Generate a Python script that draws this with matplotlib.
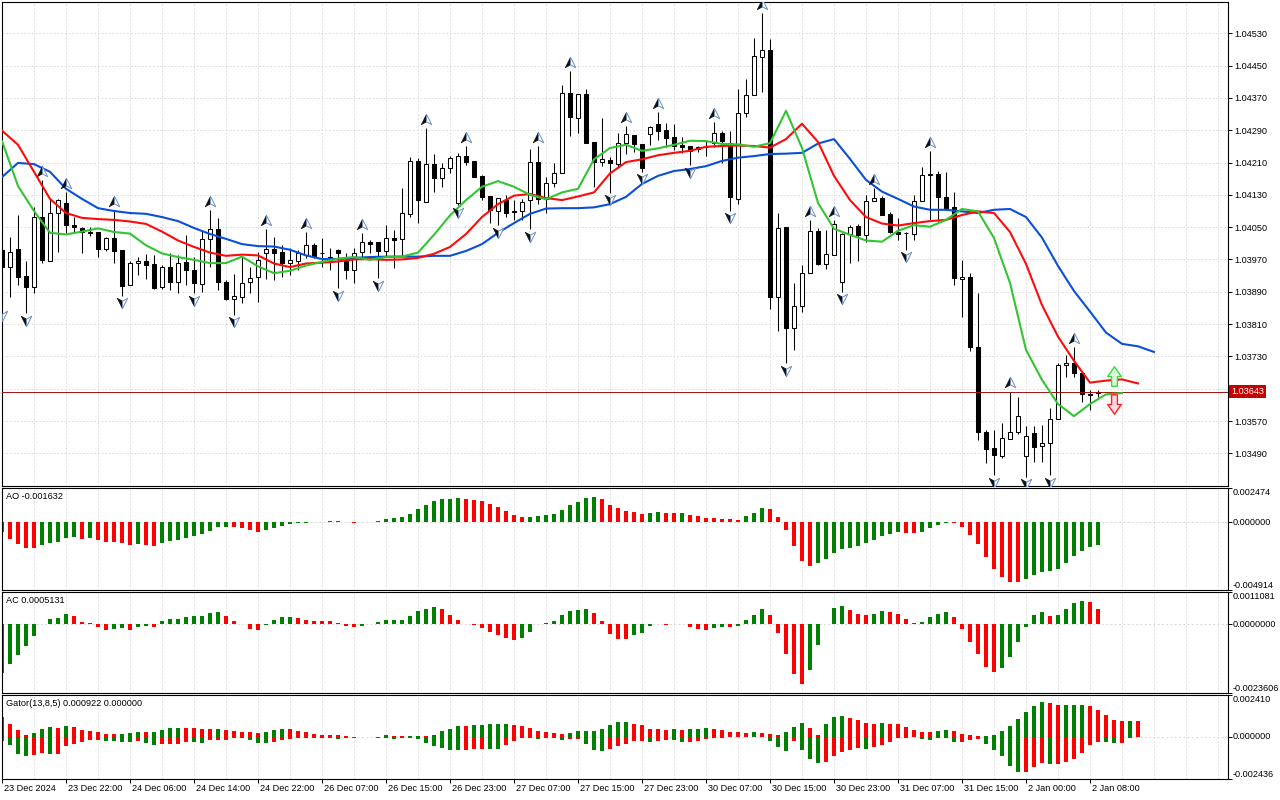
"""EURUSD H1 with Alligator, Fractals, AO, AC and Gator panels (MT5-style screenshot)."""
import matplotlib

matplotlib.use("Agg")
import matplotlib.pyplot as plt
import numpy as np
from matplotlib import transforms
from matplotlib.path import Path

plt.rcParams["font.family"] = ["Liberation Sans", "DejaVu Sans"]

# ---- candles (bar 0 = 23 Dec 14:00, hourly) ----
opens = [
    1.03994, 1.03952, 1.03995, 1.03929, 1.03903, 1.04074, 1.03967, 1.04084, 1.04109, 1.04055,
    1.04049, 1.04036, 1.04037, 1.03996, 1.04022, 1.03994, 1.03906, 1.03961, 1.03966, 1.03958,
    1.03903, 1.03951, 1.03915, 1.03963, 1.03944, 1.03909, 1.04020, 1.04045, 1.03914, 1.03871,
    1.03878, 1.03913, 1.03926, 1.03985, 1.03995, 1.03988, 1.03962, 1.03967, 1.03981, 1.04006,
    1.03985, 1.03973, 1.03994, 1.03965, 1.03944, 1.03988, 1.04013, 1.04012, 1.03992, 1.04022,
    1.04020, 1.04083, 1.04213, 1.04112, 1.04206, 1.04171, 1.04196, 1.04111, 1.04226, 1.04214,
    1.04177, 1.04127, 1.04091, 1.04116, 1.04090, 1.04090, 1.04117, 1.04212, 1.04119, 1.04160,
    1.04183, 1.04382, 1.04320, 1.04379, 1.04260, 1.04212, 1.04216, 1.04206, 1.04258, 1.04278,
    1.04256, 1.04280, 1.04305, 1.04291, 1.04272, 1.04254, 1.04251, 1.04244, 1.04249, 1.04258,
    1.04282, 1.04258, 1.04119, 1.04333, 1.04377, 1.04472, 1.04489, 1.03876, 1.04051, 1.03800,
    1.03855, 1.03937, 1.04041, 1.03959, 1.03981, 1.03915, 1.04033, 1.04053, 1.04031, 1.04115,
    1.04122, 1.04083, 1.04039, 1.04035, 1.04033, 1.04115, 1.04179, 1.04182, 1.04124, 1.04099,
    1.03921, 1.03926, 1.03754, 1.03544, 1.03502, 1.03483, 1.03525, 1.03544, 1.03483, 1.03541,
    1.03508, 1.03516, 1.03574, 1.03709, 1.03713, 1.03690, 1.03637, 1.03639,
]
highs = [
    1.04008, 1.04026, 1.04080, 1.03965, 1.04101, 1.04167, 1.04122, 1.04119, 1.04138, 1.04076,
    1.04051, 1.04051, 1.04039, 1.04026, 1.04093, 1.03994, 1.03967, 1.03977, 1.03984, 1.03981,
    1.03956, 1.03985, 1.03981, 1.04031, 1.03977, 1.04043, 1.04093, 1.04072, 1.03919, 1.03934,
    1.03977, 1.03952, 1.03989, 1.04045, 1.04026, 1.04006, 1.03998, 1.03994, 1.04039, 1.04010,
    1.04022, 1.03998, 1.03995, 1.03985, 1.03998, 1.04036, 1.04018, 1.04012, 1.04055, 1.04043,
    1.04146, 1.04223, 1.04221, 1.04295, 1.04231, 1.04210, 1.04225, 1.04233, 1.04251, 1.04214,
    1.04179, 1.04127, 1.04122, 1.04130, 1.04117, 1.04119, 1.04243, 1.04251, 1.04175, 1.04208,
    1.04402, 1.04437, 1.04379, 1.04391, 1.04260, 1.04320, 1.04223, 1.04282, 1.04301, 1.04278,
    1.04256, 1.04301, 1.04336, 1.04309, 1.04305, 1.04273, 1.04251, 1.04252, 1.04266, 1.04311,
    1.04289, 1.04289, 1.04391, 1.04417, 1.04518, 1.04580, 1.04515, 1.04086, 1.04051, 1.03911,
    1.03956, 1.04068, 1.04047, 1.04043, 1.04068, 1.04035, 1.04055, 1.04057, 1.04130, 1.04146,
    1.04127, 1.04088, 1.04072, 1.04039, 1.04130, 1.04198, 1.04239, 1.04190, 1.04187, 1.04138,
    1.03969, 1.03937, 1.03886, 1.03548, 1.03548, 1.03564, 1.03643, 1.03630, 1.03558, 1.03558,
    1.03560, 1.03602, 1.03713, 1.03734, 1.03753, 1.03690, 1.03647, 1.03647,
]
lows = [
    1.03850, 1.03878, 1.03907, 1.03837, 1.03888, 1.03961, 1.03967, 1.03989, 1.04035, 1.04039,
    1.03987, 1.04028, 1.03977, 1.03992, 1.03962, 1.03880, 1.03906, 1.03932, 1.03921, 1.03896,
    1.03896, 1.03894, 1.03886, 1.03907, 1.03886, 1.03890, 1.03952, 1.03894, 1.03870, 1.03833,
    1.03862, 1.03886, 1.03865, 1.03921, 1.03919, 1.03927, 1.03932, 1.03944, 1.03974, 1.03973,
    1.03952, 1.03944, 1.03899, 1.03921, 1.03911, 1.03977, 1.03985, 1.03923, 1.03977, 1.03948,
    1.03979, 1.04076, 1.04060, 1.04112, 1.04138, 1.04150, 1.04183, 1.04105, 1.04204, 1.04174,
    1.04117, 1.04060, 1.04055, 1.04076, 1.04068, 1.04068, 1.04045, 1.04107, 1.04084, 1.04150,
    1.04183, 1.04276, 1.04282, 1.04258, 1.04150, 1.04201, 1.04135, 1.04200, 1.04231, 1.04237,
    1.04187, 1.04254, 1.04266, 1.04249, 1.04241, 1.04233, 1.04204, 1.04237, 1.04225, 1.04249,
    1.04208, 1.04091, 1.04107, 1.04322, 1.04377, 1.04385, 1.03847, 1.03794, 1.03713, 1.03746,
    1.03841, 1.03937, 1.03956, 1.03946, 1.03981, 1.03890, 1.03962, 1.03967, 1.04014, 1.04115,
    1.04080, 1.04035, 1.04018, 1.03994, 1.04018, 1.04115, 1.04068, 1.04066, 1.04093, 1.03907,
    1.03828, 1.03744, 1.03523, 1.03465, 1.03436, 1.03478, 1.03525, 1.03538, 1.03432, 1.03469,
    1.03469, 1.03436, 1.03574, 1.03680, 1.03680, 1.03618, 1.03597, 1.03630,
]
closes = [
    1.03952, 1.03989, 1.03926, 1.03903, 1.04076, 1.03969, 1.04084, 1.04117, 1.04055, 1.04050,
    1.04039, 1.04038, 1.03997, 1.04022, 1.03992, 1.03904, 1.03962, 1.03966, 1.03957, 1.03900,
    1.03952, 1.03915, 1.03962, 1.03944, 1.03911, 1.04020, 1.04045, 1.03913, 1.03871, 1.03880,
    1.03911, 1.03925, 1.03969, 1.03995, 1.03987, 1.03962, 1.03969, 1.03985, 1.04006, 1.03975,
    1.03986, 1.03977, 1.03986, 1.03944, 1.03987, 1.04013, 1.04008, 1.03992, 1.04022, 1.04018,
    1.04086, 1.04215, 1.04116, 1.04206, 1.04171, 1.04196, 1.04221, 1.04226, 1.04212, 1.04175,
    1.04125, 1.04093, 1.04122, 1.04086, 1.04087, 1.04113, 1.04212, 1.04119, 1.04160, 1.04183,
    1.04382, 1.04322, 1.04379, 1.04259, 1.04211, 1.04218, 1.04208, 1.04258, 1.04280, 1.04256,
    1.04196, 1.04297, 1.04289, 1.04270, 1.04252, 1.04249, 1.04239, 1.04249, 1.04249, 1.04282,
    1.04264, 1.04124, 1.04333, 1.04377, 1.04474, 1.04489, 1.03876, 1.04047, 1.03800, 1.03855,
    1.03937, 1.04041, 1.03959, 1.03984, 1.04058, 1.04033, 1.04051, 1.04031, 1.04115, 1.04122,
    1.04080, 1.04039, 1.04033, 1.04035, 1.04115, 1.04179, 1.04182, 1.04124, 1.04097, 1.03923,
    1.03926, 1.03754, 1.03544, 1.03500, 1.03486, 1.03527, 1.03544, 1.03582, 1.03533, 1.03506,
    1.03516, 1.03574, 1.03709, 1.03713, 1.03688, 1.03636, 1.03634, 1.03643,
]

# ---- Alligator, sampled every 2 bars (lines run past the last bar by their shift) ----
LINE_STEP = 2
jaw = [
    1.04174, 1.04209, 1.04206, 1.04187, 1.04145, 1.04120, 1.04097, 1.04090, 1.04085, 1.04083,
    1.04075, 1.04065, 1.04048, 1.04033, 1.04021, 1.04008, 1.04003, 1.04002, 1.03994, 1.03980,
    1.03971, 1.03971, 1.03974, 1.03976, 1.03977, 1.03977, 1.03977, 1.03979, 1.03979, 1.03991,
    1.04008, 1.04036, 1.04060, 1.04083, 1.04096, 1.04097, 1.04097, 1.04099, 1.04107, 1.04125,
    1.04157, 1.04177, 1.04189, 1.04194, 1.04201, 1.04214, 1.04222, 1.04226, 1.04231, 1.04232,
    1.04234, 1.04257, 1.04268, 1.04219, 1.04167, 1.04138, 1.04120, 1.04101, 1.04093, 1.04093,
    1.04089, 1.04085, 1.04093, 1.04095, 1.04075, 1.04024, 1.03954, 1.03892, 1.03841, 1.03789,
    1.03761, 1.03755, 1.03741,
]
teeth = [
    1.04289, 1.04254, 1.04187, 1.04120, 1.04085, 1.04073, 1.04070, 1.04068, 1.04064, 1.04058,
    1.04039, 1.04017, 1.04001, 1.03987, 1.03979, 1.03982, 1.03980, 1.03960, 1.03951, 1.03960,
    1.03962, 1.03965, 1.03970, 1.03971, 1.03969, 1.03970, 1.03974, 1.03984, 1.04001, 1.04033,
    1.04075, 1.04107, 1.04128, 1.04132, 1.04122, 1.04117, 1.04126, 1.04136, 1.04183, 1.04211,
    1.04218, 1.04228, 1.04234, 1.04239, 1.04249, 1.04251, 1.04252, 1.04251, 1.04247, 1.04268,
    1.04306, 1.04261, 1.04177, 1.04117, 1.04075, 1.04059, 1.04054, 1.04060, 1.04065, 1.04068,
    1.04080, 1.04089, 1.04085, 1.04038, 1.03959, 1.03857, 1.03779, 1.03719, 1.03665, 1.03670,
    1.03673, 1.03663,
]
lips = [
    1.04263, 1.04152, 1.04090, 1.04036, 1.04032, 1.04039, 1.04047, 1.04038, 1.04034, 1.04005,
    1.03985, 1.03976, 1.03969, 1.03961, 1.03961, 1.03977, 1.03953, 1.03936, 1.03942, 1.03955,
    1.03964, 1.03972, 1.03976, 1.03969, 1.03976, 1.03977, 1.03987, 1.04031, 1.04079, 1.04117,
    1.04150, 1.04164, 1.04150, 1.04130, 1.04119, 1.04136, 1.04145, 1.04218, 1.04246, 1.04254,
    1.04239, 1.04245, 1.04254, 1.04264, 1.04263, 1.04256, 1.04255, 1.04249, 1.04258, 1.04338,
    1.04246, 1.04110, 1.04046, 1.04031, 1.04017, 1.04014, 1.04041, 1.04055, 1.04051, 1.04068,
    1.04095, 1.04089, 1.04023, 1.03912, 1.03746, 1.03672, 1.03612, 1.03582, 1.03612, 1.03636,
    1.03639,
]

fractal_up = [5, 8, 14, 26, 33, 38, 45, 53, 58, 67, 71, 78, 82, 89, 95, 101, 104, 109, 116, 126, 134]
fractal_down = [0, 3, 15, 24, 29, 42, 47, 57, 62, 66, 76, 80, 86, 91, 98, 105, 113, 124, 128, 131]

LAST_PRICE = 1.03643
SIGNAL_BAR = 139
SIGNAL_UP = 1.03682
SIGNAL_DOWN = 1.03611

ao = [
    -0.000724, -0.001207, -0.001569, -0.001883, -0.001907, -0.001642, -0.001497, -0.001449, -0.001135, -0.001086,
    -0.001207, -0.001159, -0.001280, -0.001449, -0.001473, -0.001497, -0.001642, -0.001569, -0.001642, -0.001738,
    -0.001497, -0.001376, -0.001280, -0.001135, -0.000990, -0.000845, -0.000604, -0.000362, -0.000338, -0.000362,
    -0.000410, -0.000555, -0.000724, -0.000555, -0.000410, -0.000290, -0.000121, -0.000048, -0.000024, -0.000012,
    0.000050, 0.000075, 0.000060, -0.000015, -0.000025, 0.000010, 0.000025, 0.000060, 0.000241, 0.000314,
    0.000362, 0.000604, 0.000942, 0.001231, 0.001521, 0.001666, 0.001714, 0.001762, 0.001666, 0.001654,
    0.001569, 0.001328, 0.001086, 0.000797, 0.000531, 0.000362, 0.000374, 0.000483, 0.000507, 0.000604,
    0.000893, 0.001255, 0.001449, 0.001738, 0.001811, 0.001666, 0.001255, 0.001014, 0.000797, 0.000724,
    0.000604, 0.000652, 0.000724, 0.000652, 0.000640, 0.000652, 0.000507, 0.000435, 0.000290, 0.000278,
    0.000266, 0.000217, 0.000145, 0.000435, 0.000652, 0.001014, 0.000942, 0.000362, -0.000555, -0.001738,
    -0.002801, -0.003187, -0.002970, -0.002656, -0.002221, -0.001931, -0.001859, -0.001738, -0.001497, -0.001280,
    -0.000990, -0.000845, -0.000724, -0.000773, -0.000785, -0.000700, -0.000410, -0.000193, -0.000050, -0.000070,
    -0.000338, -0.000917, -0.001569, -0.002511, -0.003380, -0.003959, -0.004322, -0.004334, -0.004104, -0.003815,
    -0.003597, -0.003585, -0.003380, -0.002945, -0.002476, -0.002076, -0.001811, -0.001632,
]
ac = [
    -0.001679, -0.001369, -0.001070, -0.000759, -0.000414, 0.000023, 0.000184, 0.000207, 0.000357, 0.000276,
    0.000069, 0.000035, -0.000081, -0.000207, -0.000161, -0.000127, -0.000184, -0.000092, -0.000046, -0.000092,
    0.000104, 0.000161, 0.000173, 0.000253, 0.000276, 0.000282, 0.000391, 0.000414, 0.000276, 0.000104,
    0.000023, -0.000161, -0.000207, -0.000023, 0.000127, 0.000242, 0.000247, 0.000196, 0.000138, 0.000104,
    0.000098, 0.000092, 0.000046, -0.000046, -0.000092, -0.000046, 0.000023, 0.000069, 0.000138, 0.000144,
    0.000150, 0.000276, 0.000449, 0.000529, 0.000587, 0.000506, 0.000322, 0.000138, 0.000012, -0.000023,
    -0.000115, -0.000265, -0.000357, -0.000483, -0.000552, -0.000483, -0.000265, -0.000006, 0.000035, 0.000104,
    0.000299, 0.000437, 0.000483, 0.000506, 0.000380, 0.000104, -0.000345, -0.000506, -0.000518, -0.000368,
    -0.000299, -0.000046, 0.000012, -0.000012, -0.000006, 0.000012, -0.000092, -0.000150, -0.000207, -0.000127,
    -0.000081, -0.000092, -0.000046, 0.000138, 0.000311, 0.000518, 0.000322, -0.000311, -0.001024, -0.001714,
    -0.002059, -0.001576, -0.000713, 0.000012, 0.000552, 0.000621, 0.000483, 0.000345, 0.000311, 0.000345,
    0.000449, 0.000414, 0.000345, 0.000173, 0.000035, 0.000069, 0.000242, 0.000345, 0.000414, 0.000242,
    -0.000161, -0.000610, -0.001024, -0.001472, -0.001645, -0.001507, -0.001127, -0.000610, -0.000081, 0.000311,
    0.000414, 0.000276, 0.000311, 0.000518, 0.000725, 0.000794, 0.000759, 0.0005131,
]
gator_up = [
    0.001131, 0.000767, 0.000422, 0.000096, 0.000211, 0.000441, 0.000556, 0.000498, 0.000613, 0.000556,
    0.000422, 0.000326, 0.000268, 0.000192, 0.000182, 0.000192, 0.000211, 0.000268, 0.000259, 0.000268,
    0.000403, 0.000498, 0.000508, 0.000498, 0.000489, 0.000460, 0.000450, 0.000460, 0.000383, 0.000326,
    0.000307, 0.000268, 0.000211, 0.000268, 0.000403, 0.000441, 0.000431, 0.000364, 0.000268, 0.000153,
    0.000115, 0.000105, 0.000096, 0.000038, 0.000010, 0.000005, 0.000003, 0.000019, 0.000096, 0.000077,
    0.000038, 0.000045, 0.000048, 0.000040, 0.000134, 0.000326, 0.000460, 0.000633, 0.000613, 0.000690,
    0.000700, 0.000728, 0.000732, 0.000736, 0.000690, 0.000652, 0.000498, 0.000326, 0.000288, 0.000211,
    0.000192, 0.000211, 0.000326, 0.000330, 0.000335, 0.000441, 0.000671, 0.000843, 0.000853, 0.000728,
    0.000671, 0.000441, 0.000431, 0.000422, 0.000441, 0.000383, 0.000441, 0.000450, 0.000498, 0.000441,
    0.000383, 0.000268, 0.000259, 0.000211, 0.000268, 0.000211, 0.000153, 0.000096, 0.000268, 0.000556,
    0.000786, 0.000498, 0.000096, 0.000728, 0.001131, 0.001189, 0.001074, 0.000959, 0.000786, 0.000728,
    0.000786, 0.000728, 0.000719, 0.000556, 0.000383, 0.000268, 0.000259, 0.000326, 0.000383, 0.000326,
    0.000192, 0.000090, 0.000030, 0.000040, 0.000096, 0.000326, 0.000613, 0.001035, 0.001419, 0.001764,
    0.001994, 0.001936, 0.001821, 0.001831, 0.001840, 0.001850, 0.001764, 0.001534, 0.001246, 0.000959,
    0.000901, 0.000935, 0.000922,
]
gator_down = [
    -0.000249, -0.000460, -0.000978, -0.001074, -0.001016, -0.000920, -0.000978, -0.000959, -0.000537, -0.000383,
    -0.000307, -0.000192, -0.000153, -0.000249, -0.000259, -0.000268, -0.000278, -0.000211, -0.000345, -0.000460,
    -0.000403, -0.000393, -0.000383, -0.000288, -0.000297, -0.000326, -0.000192, -0.000182, -0.000153, -0.000077,
    -0.000038, -0.000173, -0.000345, -0.000355, -0.000268, -0.000192, -0.000134, -0.000058, -0.000038, -0.000048,
    -0.000077, -0.000086, -0.000115, -0.000077, -0.000038, -0.000029, -0.000019, -0.000038, -0.000077, -0.000096,
    -0.000058, -0.000060, -0.000140, -0.000330, -0.000537, -0.000633, -0.000728, -0.000767, -0.000728, -0.000719,
    -0.000671, -0.000680, -0.000690, -0.000441, -0.000249, -0.000058, -0.000077, -0.000115, -0.000077, -0.000058,
    -0.000192, -0.000115, -0.000110, -0.000403, -0.000767, -0.000824, -0.000709, -0.000518, -0.000403, -0.000249,
    -0.000240, -0.000307, -0.000249, -0.000192, -0.000201, -0.000307, -0.000288, -0.000249, -0.000115, -0.000058,
    -0.000038, -0.000019, -0.000015, -0.000012, -0.000010, -0.000008, -0.000249, -0.000575, -0.000824, -0.000249,
    -0.000767, -0.001265, -0.001495, -0.001457, -0.001112, -0.000882, -0.000767, -0.000650, -0.000690, -0.000575,
    -0.000460, -0.000288, -0.000058, -0.000067, -0.000019, -0.000115, -0.000173, -0.000058, -0.000067, -0.000288,
    -0.000278, -0.000173, -0.000115, -0.000403, -0.000748, -0.001093, -0.001668, -0.002013, -0.002000, -0.001725,
    -0.001495, -0.001553, -0.001543, -0.001438, -0.001265, -0.000920, -0.000460, -0.000288, -0.000307, -0.000345,
    -0.000335, -0.000058, 0.0,
]

time_ticks = list(range(0, 137, 8))
time_labels = [
    "23 Dec 2024", "23 Dec 22:00", "24 Dec 06:00", "24 Dec 14:00", "24 Dec 22:00", "26 Dec 07:00",
    "26 Dec 15:00", "26 Dec 23:00", "27 Dec 07:00", "27 Dec 15:00", "27 Dec 23:00", "30 Dec 07:00",
    "30 Dec 15:00", "30 Dec 23:00", "31 Dec 07:00", "31 Dec 15:00", "2 Jan 00:00", "2 Jan 08:00",
]
price_ticks = [1.04530, 1.04450, 1.04370, 1.04290, 1.04210, 1.04130, 1.04050,
               1.03970, 1.03890, 1.03810, 1.03730, 1.03650, 1.03570, 1.03490]

W, H = 1280, 800
FS = 6.6
GRID = "#d9d9d9"
GREEN_H = "#008000"
RED_H = "#ff0000"
XMAX = 153.25


def panel(fig, top, bottom):
    ax = fig.add_axes([2 / W, 1 - bottom / H, 1226 / W, (bottom - top) / H])
    ax.set_xlim(0, XMAX)
    ax.set_xticks([])
    for s in ax.spines.values():
        s.set_linewidth(0.8)
    for gx in range(0, 153, 4):
        ax.axvline(gx, color=GRID, lw=0.6, ls=(0, (2.2, 2.2)), zorder=0)
    return ax


def px(fig, dx, dy):
    return transforms.ScaledTranslation(dx / 100, dy / 100, fig.dpi_scale_trans)


def side_scale(fig, ax, lo, hi, fmt, title):
    ax.set_ylim(lo, hi)
    ax.yaxis.tick_right()
    ax.set_yticks([lo, 0, hi])
    ax.set_yticklabels([])
    ax.tick_params(axis="y", length=3, width=0.7, direction="out")
    ax.axhline(0, color=GRID, lw=0.7, ls=(0, (2.2, 2.2)), zorder=0)
    tr = transforms.blended_transform_factory(ax.transAxes, ax.transData) + px(fig, 5, 0)
    ax.text(1, hi, fmt.format(hi), transform=tr, ha="left", va="top", fontsize=FS)
    ax.text(1, 0, fmt.format(0), transform=tr, ha="left", va="center", fontsize=FS)
    ax.text(1, lo, fmt.format(lo), transform=tr, ha="left", va="bottom", fontsize=FS)
    ax.text(0, 1, title, transform=ax.transAxes + px(fig, 4, -4), ha="left", va="top", fontsize=FS)


def hist_colors(vals, first, absolute=False):
    v = np.abs(vals) if absolute else np.asarray(vals)
    cols = [first]
    for i in range(1, len(v)):
        cols.append(GREEN_H if v[i] > v[i - 1] else RED_H)
    return cols


def dart(sign, side):
    # half of an MT fractal glyph: left half is solid, right half is the light bevel
    tip, notch, wing = (0, 0.9 * sign), (0, -0.4 * sign), (0.9 * side, -0.9 * sign)
    return Path([tip, wing, notch, tip], [Path.MOVETO, Path.LINETO, Path.LINETO, Path.CLOSEPOLY])


def main():
    fig = plt.figure(figsize=(W / 100, H / 100), dpi=100)
    ax = panel(fig, 2, 485.5)
    ax_ao = panel(fig, 488.3, 589.7)
    ax_ac = panel(fig, 592, 692.7)
    ax_g = panel(fig, 695, 779.3)

    # ---- price panel ----
    ax.set_ylim(1.034103, 1.046075)
    for p in price_ticks:
        ax.axhline(p, color=GRID, lw=0.6, ls=(0, (2.2, 2.2)), zorder=0)
    ax.yaxis.tick_right()
    ax.set_yticks(price_ticks)
    ax.set_yticklabels(["" if abs(p - 1.03650) < 1e-9 else f"{p:.5f}" for p in price_ticks])
    ax.tick_params(axis="y", length=3, width=0.7, pad=1.5, labelsize=FS, direction="out")

    bars = np.arange(len(opens))
    o, h, l, c = map(np.asarray, (opens, highs, lows, closes))
    ax.vlines(bars, l, h, color="black", lw=0.75, zorder=2)
    bull = c > o
    ax.bar(bars, np.abs(c - o), bottom=np.minimum(o, c), width=0.62,
           color=np.where(bull, "white", "black"), edgecolor="black", linewidth=0.75, zorder=3)

    ax.plot(np.arange(len(jaw)) * LINE_STEP, jaw, color="#0a4fd8", lw=1.5, zorder=4)
    ax.plot(np.arange(len(teeth)) * LINE_STEP, teeth, color="#ff0a0a", lw=1.5, zorder=4)
    ax.plot(np.arange(len(lips)) * LINE_STEP, lips, color="#33c433", lw=1.5, zorder=4)

    ax.axhline(LAST_PRICE, color="#a01010", lw=0.7, zorder=3)

    up_tr = transforms.offset_copy(ax.transData, fig=fig, y=6.5, units="points")
    dn_tr = transforms.offset_copy(ax.transData, fig=fig, y=-5.5, units="points")
    for idx, vals, sign, tr in ((fractal_up, h, 1, up_tr), (fractal_down, l, -1, dn_tr)):
        ax.plot(idx, vals[idx], ls="none", marker=dart(sign, -1), ms=7.5, mfc="#101010",
                mec="#101010", mew=0.5, transform=tr, zorder=6)
        ax.plot(idx, vals[idx], ls="none", marker=dart(sign, 1), ms=7.5, mfc="white",
                mec="#6f8fc0", mew=0.7, transform=tr, zorder=6)

    blk_up = Path([(-0.3, -1), (0.3, -1), (0.3, 0), (0.7, 0), (0, 1), (-0.7, 0), (-0.3, 0), (-0.3, -1)],
                  [Path.MOVETO] + [Path.LINETO] * 6 + [Path.CLOSEPOLY])
    blk_dn = Path([(-0.3, 1), (0.3, 1), (0.3, 0), (0.7, 0), (0, -1), (-0.7, 0), (-0.3, 0), (-0.3, 1)],
                  [Path.MOVETO] + [Path.LINETO] * 6 + [Path.CLOSEPOLY])
    ax.plot([SIGNAL_BAR], [SIGNAL_UP], marker=blk_up, ms=14, mfc="#dcffe0", mec="#3bd83b", mew=1.0, zorder=6)
    ax.plot([SIGNAL_BAR], [SIGNAL_DOWN], marker=blk_dn, ms=14, mfc="#ffd6e6", mec="#ff2020", mew=1.0, zorder=6)

    box_tr = transforms.blended_transform_factory(ax.transAxes, ax.transData) + px(fig, 3, 0)
    ax.text(1, LAST_PRICE, f"{LAST_PRICE:.5f}", transform=box_tr, ha="left", va="center",
            fontsize=FS, color="white", zorder=10,
            bbox=dict(boxstyle="square,pad=0.25", fc="#c40000", ec="none"))

    # ---- oscillators ----
    ax_ao.bar(bars, ao, width=0.5, color=hist_colors(ao, RED_H), linewidth=0, zorder=2)
    side_scale(fig, ax_ao, -0.004914, 0.002474, "{:.6f}", f"AO {ao[-1]:.6f}")

    ax_ac.bar(bars, ac, width=0.5, color=hist_colors(ac, GREEN_H), linewidth=0, zorder=2)
    side_scale(fig, ax_ac, -0.0023606, 0.0011081, "{:.7f}", f"AC {ac[-1]:.7f}")

    gbars = np.arange(len(gator_up))
    ax_g.bar(gbars, gator_up, width=0.5, color=hist_colors(gator_up, RED_H), linewidth=0, zorder=2)
    ax_g.bar(gbars, gator_down, width=0.5, color=hist_colors(gator_down, GREEN_H, absolute=True),
             linewidth=0, zorder=2)
    side_scale(fig, ax_g, -0.002436, 0.002410, "{:.6f}",
               f"Gator(13,8,5) {gator_up[-1]:.6f} {abs(gator_down[-1]):.6f}")

    ax_g.set_xticks(time_ticks)
    ax_g.tick_params(axis="x", length=3, width=0.7, direction="out", labelbottom=False)
    lab_tr = transforms.blended_transform_factory(ax_g.transData, ax_g.transAxes) + px(fig, 2, -5)
    for t, lbl in zip(time_ticks, time_labels):
        ax_g.text(t, 0, lbl, transform=lab_tr, ha="left", va="top", fontsize=FS)

    fig.savefig("out.png", dpi=100, facecolor="white")
    plt.close(fig)


if __name__ == "__main__":
    main()
